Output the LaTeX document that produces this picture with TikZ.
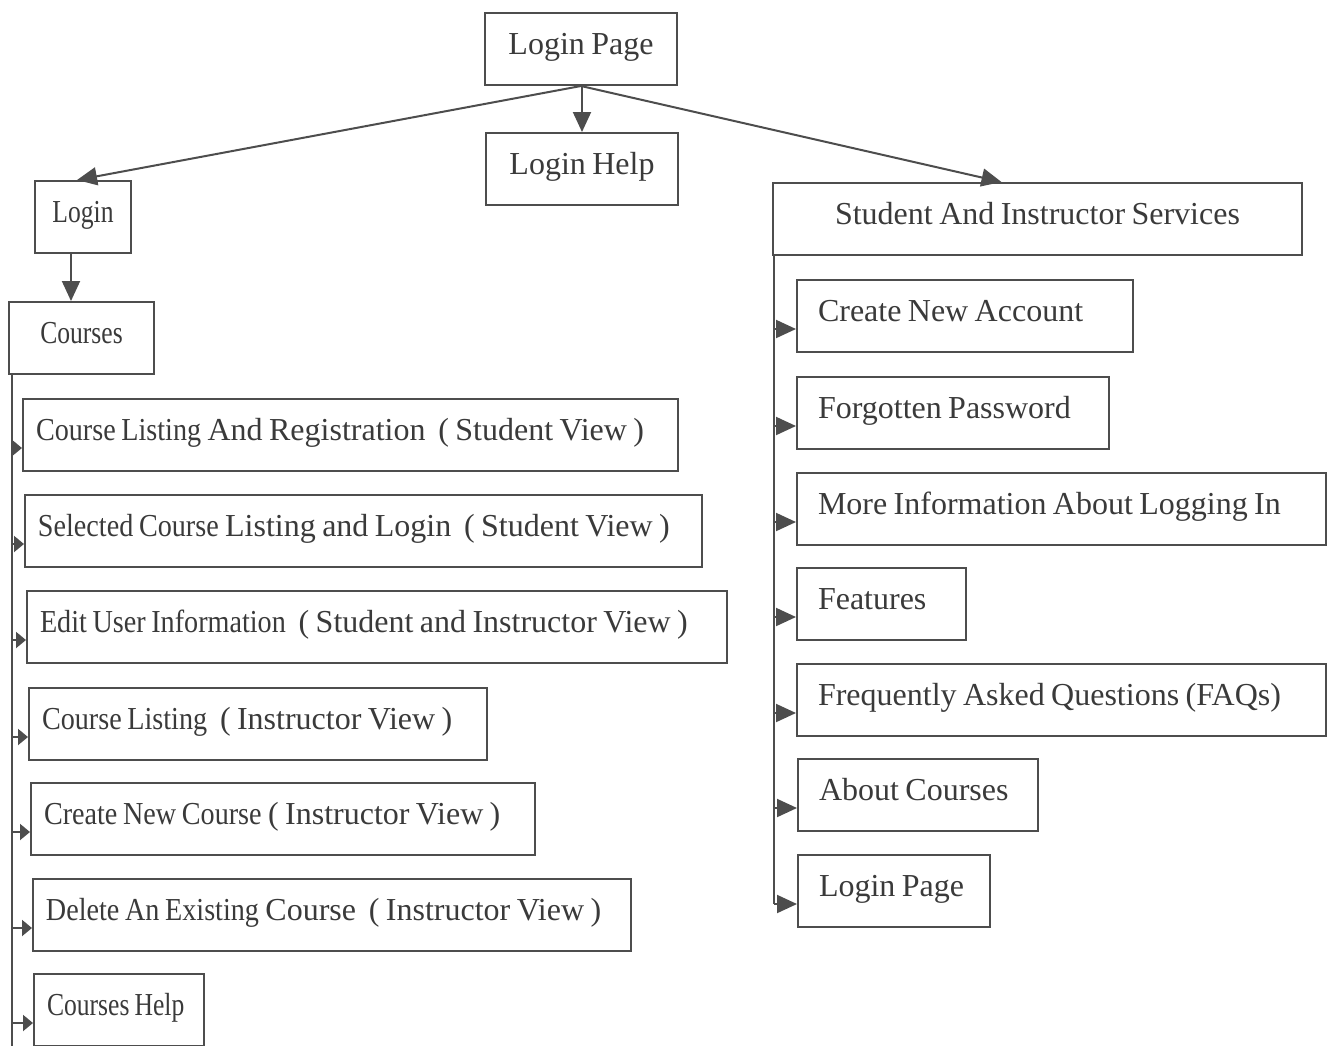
\documentclass[tikz,border=0pt]{standalone}
\usepackage{fontspec}
\setmainfont[WordSpace=0.8]{Liberation Serif}
\newfontfamily\etroit[FakeStretch=0.8,WordSpace=0.8]{Liberation Serif}
\newfontfamily\moyen[FakeStretch=0.88,WordSpace=0.8]{Liberation Serif}
\usepackage{tikz}
\usetikzlibrary{arrows.meta}
\definecolor{trait}{HTML}{4D4D4D}
\definecolor{encre}{HTML}{3A3A3A}
\newcommand{\etr}[1]{{\etroit #1}}
\newcommand{\moy}[1]{{\moyen #1}}
\newcommand{\gauche}[2]{\makebox[#1][l]{#2}}
\tikzset{
boite/.style={
 draw=trait,
 line width=1pt,
 text=encre,
 font=\fontsize{16}{19}\selectfont,
 inner ysep=0pt,
 text height=20.5pt,
 text depth=15.5pt,
 anchor=north west
 },
boiteG/.style={
 boite,
 inner xsep=6.5pt
 },
boiteD/.style={
 boite,
 inner xsep=10.5pt
 },
fleche/.style={
 draw=trait,
 line width=1pt,
 -{Triangle[length=10pt,width=9pt]}
 },
petiteFleche/.style={
 draw=trait,
 line width=1pt,
 -{Triangle[length=5pt,width=8pt]}
 },
tronc/.style={
 draw=trait,
 line width=1pt
 }
}
\begin{document}
\begin{tikzpicture}[x=0.5pt,y=-0.5pt]
\useasboundingbox (0,0) rectangle (1328,1045);
% haut
\node[boite,minimum width=96pt] (loginpage) at (484,12) {Login Page};
\node[boite,minimum width=96pt] (loginhelp) at (485,132) {Login Help};
\node[boite,minimum width=48pt] (login) at (34,180) {\etr{Login}};
\node[boite,minimum width=72.5pt] (courses) at (8,301) {\etr{Courses}};
\node[boite,minimum width=264.5pt] (services) at (772,182) {Student And Instructor Services};
% liste de gauche
\node[boiteG] (c1) at (22,398) {\gauche{314.5pt}{\moy{Course Listing} And Registration\ \ ( Student View )}};
\node[boiteG] (c2) at (24,494) {\gauche{325.5pt}{\moy{Selected Course} Listing and Login\ \ ( Student View )}};
\node[boiteG] (c3) at (26,590) {\gauche{337pt}{\moy{Edit User Information}\ \ ( Student and Instructor View )}};
\node[boiteG] (c4) at (28,687) {\gauche{216pt}{\moy{Course Listing}\ \ ( Instructor View )}};
\node[boiteG] (c5) at (30,782) {\gauche{239pt}{\moy{Create New Course} ( Instructor View )}};
\node[boiteG] (c6) at (32,878) {\gauche{286pt}{\moy{Delete An Existing} Course\ \ ( Instructor View )}};
\node[boiteG] (c7) at (33,973) {\gauche{72pt}{\etr{Courses Help}}};
% liste de droite
\node[boiteD] (s1) at (796,279) {\gauche{147pt}{Create New Account}};
\node[boiteD] (s2) at (796,376) {\gauche{135pt}{Forgotten Password}};
\node[boiteD] (s3) at (796,472) {\gauche{243.5pt}{More Information About Logging In}};
\node[boiteD] (s4) at (796,567) {\gauche{63.5pt}{Features}};
\node[boiteD] (s5) at (796,663) {\gauche{243.5pt}{Frequently Asked Questions (FAQs)}};
\node[boiteD] (s6) at (797,758) {\gauche{99pt}{About Courses}};
\node[boiteD] (s7) at (797,854) {\gauche{75pt}{Login Page}};
% fleches du haut
\draw[fleche] (loginpage.south) -- ([xshift=-3pt]login.north);
\draw[fleche] (loginhelp.north |- loginpage.south) -- (loginhelp.north);
\draw[fleche] (loginpage.south) -- ([xshift=-18pt]services.north);
\draw[fleche] ([xshift=-6pt]login.south) -- ([xshift=-6pt]login.south |- courses.north);
% troncs
\coordinate (tg) at (12,374);
\coordinate (td) at (774,255);
\draw[tronc] (tg) -- (tg |- c7.south);
\draw[tronc] (td) -- ([yshift=-4pt]td |- s7.base west);
\foreach \n in {c1,c2,c3,c4,c5,c6,c7}
 \draw[petiteFleche] ([yshift=-4pt]tg |- \n.base west) -- ([yshift=-4pt]\n.base west);
\foreach \n in {s1,s2,s3,s4,s5,s6,s7}
 \draw[fleche] ([yshift=-4pt]td |- \n.base west) -- ([yshift=-4pt]\n.base west);
\end{tikzpicture}
\end{document}
